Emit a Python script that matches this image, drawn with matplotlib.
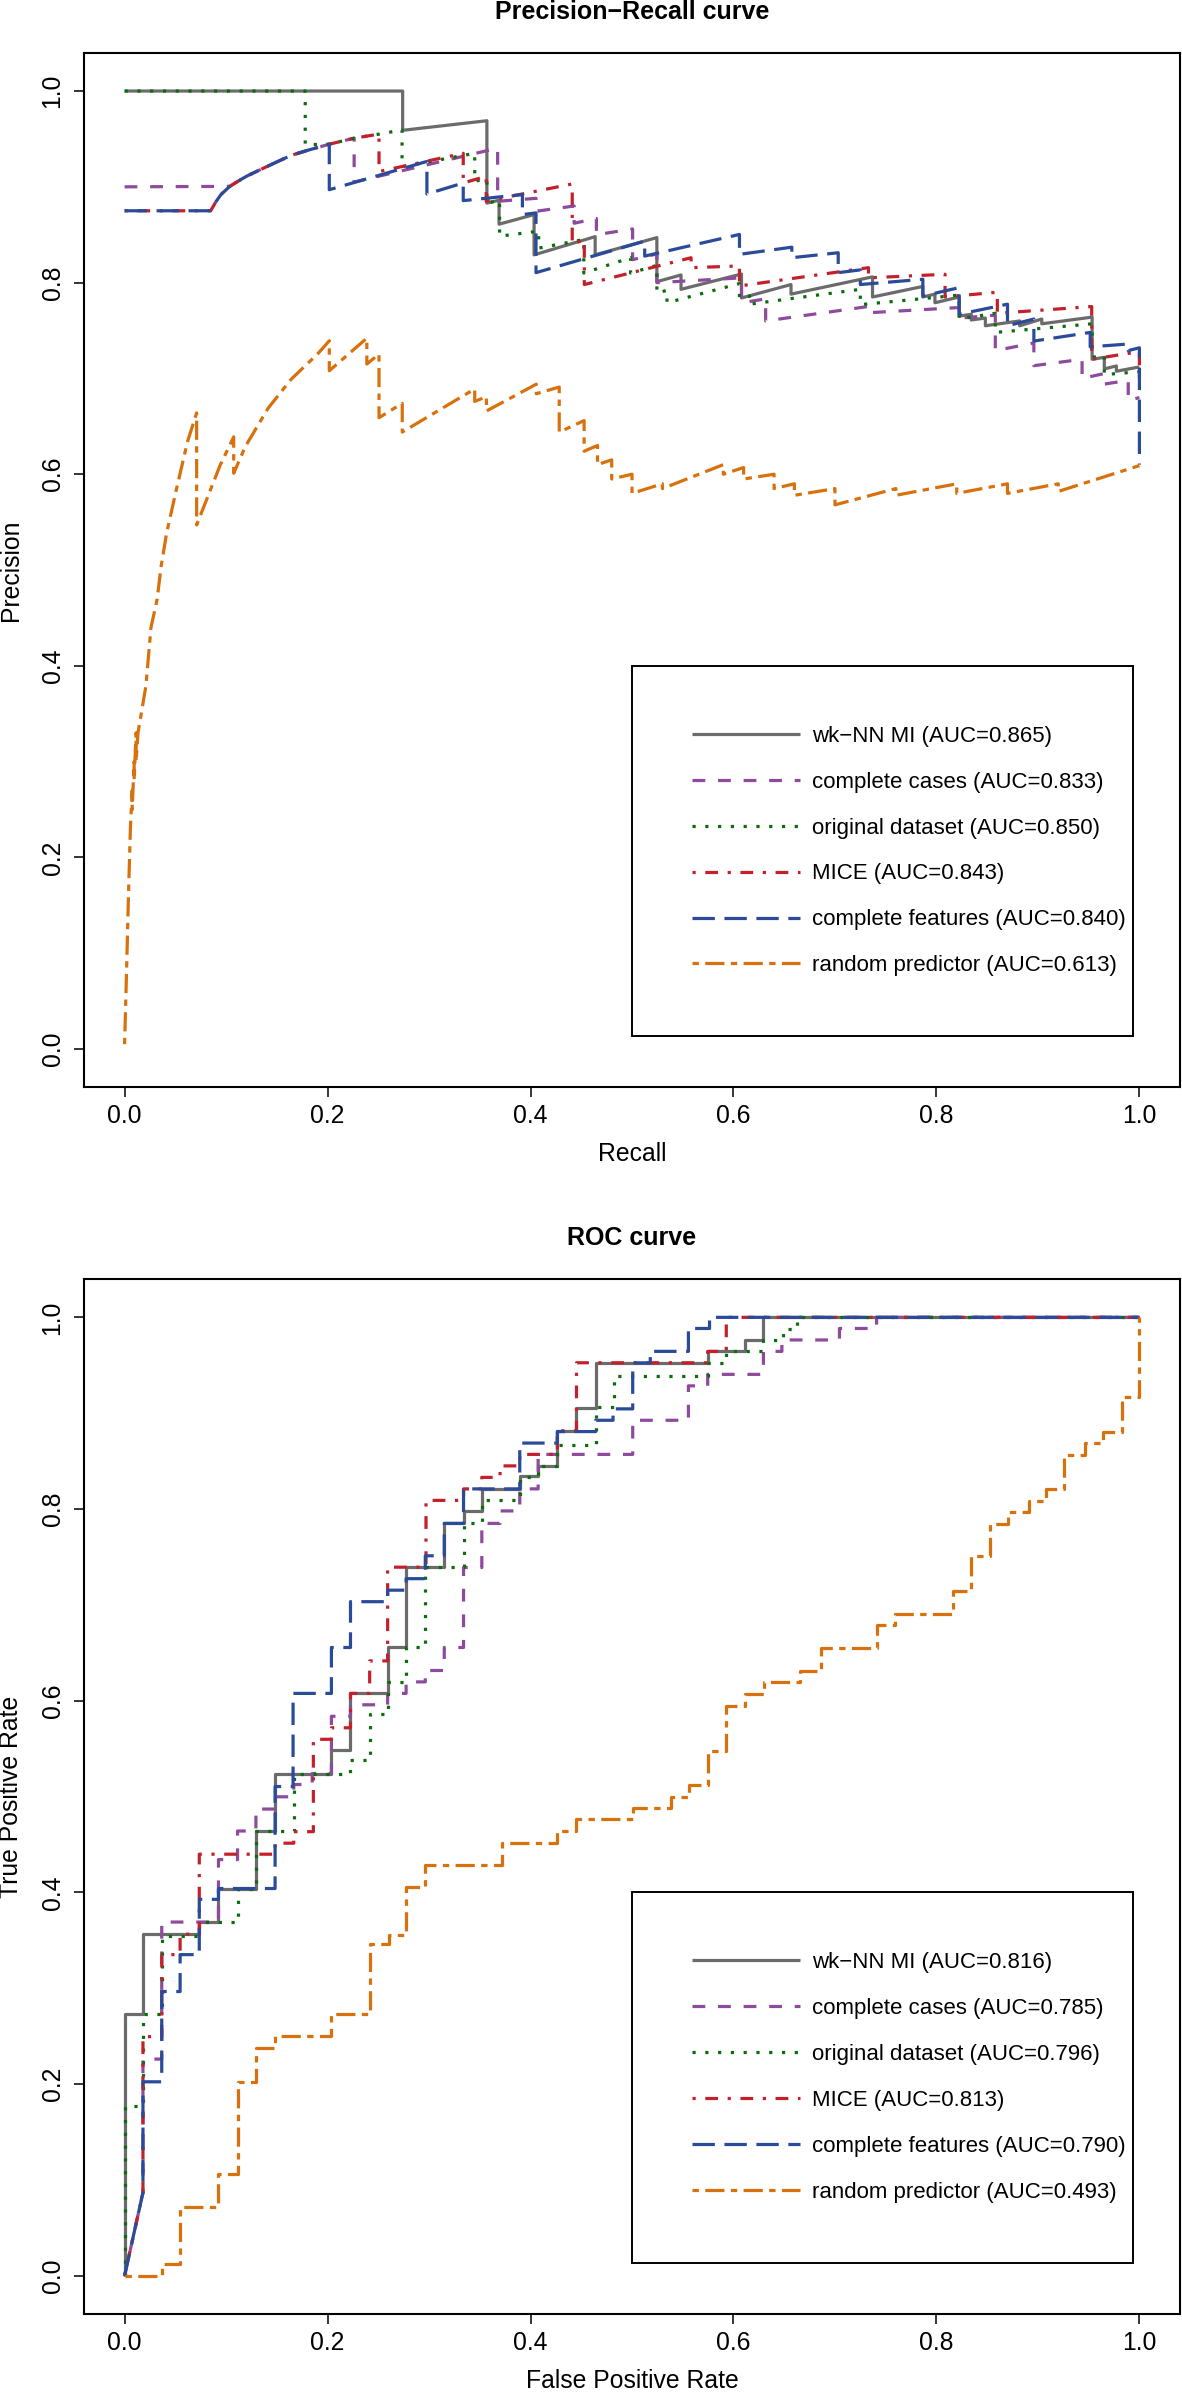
import matplotlib
matplotlib.use("Agg")
import matplotlib.pyplot as plt

plt.rcParams['font.family'] = ['Liberation Sans', 'DejaVu Sans']

# ---------------- labels / styles ----------------
series_names = ["wk\u2212NN MI", "complete cases", "original dataset", "MICE",
                "complete features", "random predictor"]
pr_auc = [0.865, 0.833, 0.850, 0.843, 0.840, 0.613]
roc_auc = [0.816, 0.785, 0.796, 0.813, 0.790, 0.493]
colors = ["#6b6b6b", "#8e4a9c", "#0a6e0a", "#c4202c", "#2a4a9a", "#d8700c"]
dash_patterns = [None, (4, 4), (1, 3), (1, 3, 4, 3), (7, 3), (2, 2, 6, 2)]
tick_vals = [0.0, 0.2, 0.4, 0.6, 0.8, 1.0]
tick_labels = ["0.0", "0.2", "0.4", "0.6", "0.8", "1.0"]

# ---------------- Precision-Recall data ----------------
pr_wknn_r = [0, 0.274, 0.274, 0.357, 0.357, 0.369, 0.369, 0.4035, 0.4035, 0.4637, 0.4637, 0.5245, 0.5245,
             0.5483, 0.5483, 0.6079, 0.6079, 0.6567, 0.6567, 0.737, 0.737, 0.7866, 0.7866, 0.7985, 0.7985,
             0.8224, 0.8224, 0.8343, 0.8343, 0.8482, 0.8482, 0.882, 0.882, 0.9038, 0.9038, 0.9534, 0.9534,
             0.9654, 0.9654, 0.9773, 0.9773, 1.0]
pr_wknn_p = [1.0, 1.0, 0.959, 0.969, 0.883, 0.886, 0.861, 0.871, 0.829, 0.848, 0.829, 0.847, 0.801,
             0.808, 0.793, 0.809, 0.784, 0.798, 0.788, 0.806, 0.785, 0.796, 0.785, 0.788, 0.779,
             0.785, 0.765, 0.767, 0.761, 0.763, 0.755, 0.760, 0.755, 0.762, 0.757, 0.764, 0.720,
             0.722, 0.710, 0.713, 0.7075, 0.712]

pr_cc_r = [0, 0.1037, 0.112, 0.12, 0.1339, 0.15, 0.164, 0.18, 0.2017, 0.2262, 0.2262, 0.3676, 0.3676, 0.4054,
           0.4054, 0.443, 0.443, 0.4649, 0.4649, 0.5006, 0.5006, 0.5245, 0.5245, 0.6079, 0.6079, 0.6317,
           0.6317, 0.737, 0.737, 0.8224, 0.8224, 0.858, 0.858, 0.896, 0.896, 0.9435, 0.9435, 0.965, 0.965,
           0.989, 0.989, 1.0]
pr_cc_p = [0.9, 0.9005, 0.906, 0.911, 0.918, 0.926, 0.9328, 0.938, 0.9445, 0.9508, 0.905, 0.9404, 0.8849, 0.888,
           0.8745, 0.880, 0.862, 0.867, 0.850, 0.856, 0.824, 0.830, 0.800, 0.805, 0.779, 0.783,
           0.760, 0.7757, 0.7688, 0.774, 0.763, 0.766, 0.729, 0.737, 0.7133, 0.72, 0.70, 0.705, 0.694,
           0.698, 0.677, 0.68]

pr_orig_r = [0, 0.178, 0.178, 0.2017, 0.2262, 0.2507, 0.2734, 0.2734, 0.345, 0.345, 0.357, 0.357, 0.3695,
             0.3695, 0.408, 0.408, 0.4525, 0.4525, 0.4986, 0.4986, 0.5245, 0.5245, 0.5345, 0.5345, 0.6059,
             0.6059, 0.6159, 0.6159, 0.725, 0.725, 0.8224, 0.8224, 0.858, 0.858, 0.9534, 0.9534, 0.9654,
             0.9654, 1.0]
pr_orig_p = [1.0, 1.0, 0.944, 0.9445, 0.9508, 0.955, 0.9594, 0.921, 0.935, 0.906, 0.908, 0.883, 0.886,
             0.8485, 0.8537, 0.836, 0.845, 0.81, 0.826, 0.81, 0.818, 0.789, 0.792, 0.779, 0.799,
             0.784, 0.786, 0.7775, 0.793, 0.777, 0.787, 0.762, 0.768, 0.748, 0.757, 0.722, 0.724,
             0.704, 0.707]

pr_mice_r = [0, 0.0848, 0.09, 0.095, 0.1037, 0.112, 0.12, 0.1339, 0.15, 0.164, 0.18, 0.2017, 0.2262, 0.2507,
             0.2507, 0.3337, 0.3337, 0.3563, 0.3563, 0.4411, 0.4411, 0.453, 0.453, 0.5582, 0.5582, 0.6059,
             0.6059, 0.733, 0.733, 0.8085, 0.8085, 0.86, 0.86, 0.953, 0.953, 1.0, 1.0]
pr_mice_p = [0.875, 0.875, 0.8845, 0.892, 0.9005, 0.906, 0.911, 0.918, 0.926, 0.9328, 0.938, 0.9445, 0.9508,
             0.955, 0.916, 0.935, 0.904, 0.911, 0.885, 0.903, 0.84, 0.845, 0.798, 0.826, 0.8156, 0.8174,
             0.7965, 0.8156, 0.805, 0.8087, 0.785, 0.79, 0.768, 0.775, 0.72, 0.728, 0.70]

pr_cf_r = [0, 0.0848, 0.09, 0.095, 0.1037, 0.112, 0.12, 0.1339, 0.15, 0.164, 0.18, 0.2017, 0.2017, 0.2979,
           0.2979, 0.3337, 0.3337, 0.392, 0.392, 0.4054, 0.4054, 0.5125, 0.5125, 0.6059, 0.6059, 0.6575,
           0.6575, 0.7032, 0.7032, 0.725, 0.725, 0.7866, 0.7866, 0.8224, 0.8224, 0.87, 0.87, 0.896, 0.896,
           0.9515, 0.9515, 0.989, 0.989, 1.0, 1.0]
pr_cf_p = [0.875, 0.875, 0.8845, 0.892, 0.9005, 0.906, 0.911, 0.918, 0.926, 0.9328, 0.938, 0.9445, 0.897,
           0.9265, 0.8925, 0.904, 0.8856, 0.8919, 0.871, 0.8728, 0.8104, 0.8433, 0.8277, 0.8503, 0.8295,
           0.837, 0.826, 0.8312, 0.8104, 0.8133, 0.798, 0.8035, 0.786, 0.7948, 0.767, 0.7775, 0.755, 0.762,
           0.739, 0.748, 0.733, 0.7359, 0.729, 0.732, 0.61]

pr_rand_r = [0, 0.0019, 0.0038, 0.0057, 0.0075, 0.0075, 0.0094, 0.0094, 0.0113, 0.0113, 0.0132, 0.021,
             0.026, 0.032, 0.036, 0.0415, 0.051, 0.062, 0.071, 0.071, 0.081, 0.094, 0.1075, 0.1075, 0.119,
             0.1415, 0.164, 0.1906, 0.2017, 0.2017, 0.2387, 0.2387, 0.2507, 0.2507, 0.2736, 0.2736, 0.345,
             0.345, 0.3566, 0.3566, 0.4057, 0.4057, 0.4283, 0.4283, 0.4528, 0.4528, 0.466, 0.466, 0.48, 0.48,
             0.5, 0.5, 0.53, 0.53, 0.59, 0.59, 0.61, 0.61, 0.64, 0.64, 0.66, 0.66, 0.7, 0.7, 0.76, 0.76,
             0.82, 0.82, 0.87, 0.87, 0.92, 0.92, 1.0]
pr_rand_p = [0.005, 0.08, 0.16, 0.23, 0.27, 0.25, 0.30, 0.28, 0.33, 0.30, 0.33, 0.379,
             0.44, 0.469, 0.504, 0.539, 0.584, 0.634, 0.664, 0.547, 0.574, 0.609, 0.639, 0.601, 0.629,
             0.669, 0.699, 0.726, 0.7393, 0.708, 0.742, 0.715, 0.7255, 0.659, 0.674, 0.644, 0.689,
             0.676, 0.681, 0.666, 0.694, 0.684, 0.691, 0.644, 0.656, 0.624, 0.63, 0.61, 0.615, 0.595,
             0.60, 0.58, 0.59, 0.585, 0.61, 0.60, 0.607, 0.595, 0.60, 0.585, 0.59, 0.578, 0.585, 0.568,
             0.585, 0.578, 0.59, 0.58, 0.59, 0.58, 0.59, 0.582, 0.609]

# ---------------- ROC data (FPR, TPR vertices) ----------------
roc_wknn = [(0, 0), (0, 0.273), (0.0181, 0.273), (0.0181, 0.357), (0.0736, 0.357), (0.0736, 0.369),
            (0.0925, 0.369), (0.0925, 0.404), (0.1294, 0.404), (0.1294, 0.464), (0.1483, 0.464),
            (0.1483, 0.524), (0.2038, 0.524), (0.2038, 0.549), (0.2226, 0.549), (0.2226, 0.6076),
            (0.2592, 0.6076), (0.2592, 0.6555), (0.2774, 0.6555), (0.2774, 0.739), (0.315, 0.739),
            (0.315, 0.785), (0.334, 0.785), (0.334, 0.798), (0.352, 0.798), (0.352, 0.821), (0.3894, 0.821),
            (0.3894, 0.834), (0.4075, 0.834), (0.4075, 0.845), (0.4264, 0.845), (0.4264, 0.8816),
            (0.4445, 0.8816), (0.4445, 0.9055), (0.4642, 0.9055), (0.4642, 0.9525), (0.5746, 0.9525),
            (0.5746, 0.9645), (0.6112, 0.9645), (0.6112, 0.9764), (0.6295, 0.9764), (0.6295, 1.0), (1.0, 1.0)]

roc_cc = [(0, 0), (0.0181, 0.0868), (0.0181, 0.226), (0.0366, 0.226), (0.0366, 0.369), (0.0925, 0.369),
          (0.0925, 0.4342), (0.1113, 0.4342), (0.1113, 0.464), (0.1294, 0.464), (0.1294, 0.4869),
          (0.1483, 0.4869), (0.1483, 0.4997), (0.1667, 0.4997), (0.1667, 0.5125), (0.1849, 0.5125),
          (0.1849, 0.524), (0.2038, 0.524), (0.2038, 0.5837), (0.2226, 0.5837), (0.2226, 0.5957),
          (0.2592, 0.5957), (0.2592, 0.6076), (0.2774, 0.6076), (0.2774, 0.6196), (0.2963, 0.6196),
          (0.2963, 0.6315), (0.315, 0.6315), (0.315, 0.6555), (0.334, 0.6555), (0.334, 0.739),
          (0.352, 0.739), (0.352, 0.785), (0.37, 0.785), (0.37, 0.798), (0.3894, 0.798), (0.3894, 0.821),
          (0.4075, 0.821), (0.4075, 0.857), (0.5007, 0.857), (0.5007, 0.8926), (0.5556, 0.8926),
          (0.5556, 0.9285), (0.5746, 0.9285), (0.5746, 0.9405), (0.6295, 0.9405), (0.6295, 0.9645),
          (0.6477, 0.9645), (0.6477, 0.9764), (0.7044, 0.9764), (0.7044, 0.9884), (0.741, 0.9884),
          (0.741, 1.0), (1.0, 1.0)]

roc_orig = [(0, 0), (0, 0.1767), (0.0181, 0.1767), (0.0181, 0.273), (0.0366, 0.273), (0.0366, 0.354),
            (0.0736, 0.354), (0.0736, 0.369), (0.1113, 0.369), (0.1113, 0.404), (0.1294, 0.404),
            (0.1294, 0.464), (0.1672, 0.464), (0.1672, 0.524), (0.2226, 0.524), (0.2226, 0.538),
            (0.2415, 0.538), (0.2415, 0.5857), (0.2592, 0.5857), (0.2592, 0.6196), (0.2774, 0.6196),
            (0.2774, 0.6555), (0.2963, 0.6555), (0.2963, 0.739), (0.334, 0.739), (0.334, 0.785),
            (0.352, 0.785), (0.352, 0.809), (0.3894, 0.809), (0.3894, 0.833), (0.4075, 0.833),
            (0.4075, 0.845), (0.4264, 0.845), (0.4264, 0.867), (0.4642, 0.867), (0.4642, 0.9067),
            (0.482, 0.9067), (0.482, 0.939), (0.5746, 0.939), (0.5746, 0.9525), (0.5926, 0.9525),
            (0.5926, 0.9645), (0.6295, 0.9645), (0.6295, 0.9764), (0.649, 0.9764), (0.649, 0.988),
            (0.6624, 0.988), (0.6624, 1.0), (1.0, 1.0)]

roc_mice = [(0, 0), (0.0181, 0.0868), (0.0181, 0.2494), (0.0366, 0.2494), (0.0366, 0.335), (0.0547, 0.335),
            (0.0547, 0.3563), (0.0736, 0.3563), (0.0736, 0.4398), (0.1483, 0.4398), (0.1483, 0.4513),
            (0.1667, 0.4513), (0.1667, 0.4633), (0.186, 0.4633), (0.186, 0.5597), (0.2038, 0.5597),
            (0.2038, 0.5717), (0.2226, 0.5717), (0.2226, 0.6076), (0.2415, 0.6076), (0.2415, 0.6415),
            (0.2592, 0.6415), (0.2592, 0.7393), (0.297, 0.7393), (0.297, 0.809), (0.334, 0.809),
            (0.334, 0.821), (0.352, 0.821), (0.352, 0.833), (0.37, 0.833), (0.37, 0.845), (0.3894, 0.845),
            (0.3894, 0.857), (0.4264, 0.857), (0.4264, 0.8816), (0.4453, 0.8816), (0.4453, 0.9526),
            (0.5746, 0.9526), (0.5746, 0.9645), (0.5929, 0.9645), (0.5929, 1.0), (1.0, 1.0)]

roc_cf = [(0, 0), (0.0181, 0.0868), (0.0181, 0.2023), (0.0366, 0.2023), (0.0366, 0.2965), (0.0547, 0.2965),
          (0.0547, 0.335), (0.0736, 0.335), (0.0736, 0.3927), (0.0925, 0.3927), (0.0925, 0.404),
          (0.1483, 0.404), (0.1483, 0.5104), (0.166, 0.5104), (0.166, 0.6076), (0.2038, 0.6076),
          (0.2038, 0.6555), (0.2226, 0.6555), (0.2226, 0.7033), (0.2592, 0.7033), (0.2592, 0.7153),
          (0.2774, 0.7153), (0.2774, 0.7273), (0.2963, 0.7273), (0.2963, 0.7512), (0.315, 0.7512),
          (0.315, 0.785), (0.334, 0.785), (0.334, 0.821), (0.3894, 0.821), (0.3894, 0.8688),
          (0.4264, 0.8688), (0.4264, 0.8808), (0.4642, 0.8808), (0.4642, 0.8926), (0.4813, 0.8926),
          (0.4813, 0.9045), (0.5007, 0.9045), (0.5007, 0.9525), (0.518, 0.9525), (0.518, 0.9645),
          (0.5556, 0.9645), (0.5556, 0.9884), (0.5764, 0.9884), (0.5764, 1.0), (1.0, 1.0)]

roc_rand = [(0, 0), (0.0366, 0), (0.0366, 0.012), (0.0547, 0.012), (0.0547, 0.0719), (0.0925, 0.0719),
            (0.0925, 0.1061), (0.1113, 0.1061), (0.1113, 0.2023), (0.1294, 0.2023), (0.1294, 0.2374),
            (0.1483, 0.2374), (0.1483, 0.2503), (0.2038, 0.2503), (0.2038, 0.273), (0.2415, 0.273),
            (0.2415, 0.3457), (0.2604, 0.3457), (0.2604, 0.3555), (0.2774, 0.3555), (0.2774, 0.4056),
            (0.2962, 0.4056), (0.2962, 0.4282), (0.3717, 0.4282), (0.3717, 0.4513), (0.4264, 0.4513),
            (0.4264, 0.4642), (0.4453, 0.4642), (0.4453, 0.4766), (0.5007, 0.4766), (0.5007, 0.4878),
            (0.538, 0.4878), (0.538, 0.4993), (0.5563, 0.4993), (0.5563, 0.5121), (0.5746, 0.5121),
            (0.5746, 0.547), (0.5929, 0.547), (0.5929, 0.5947), (0.6112, 0.5947), (0.6112, 0.607),
            (0.63, 0.607), (0.63, 0.619), (0.666, 0.619), (0.666, 0.631), (0.686, 0.631), (0.686, 0.6549),
            (0.741, 0.6549), (0.741, 0.6789), (0.7593, 0.6789), (0.7593, 0.6909), (0.816, 0.6909),
            (0.816, 0.7149), (0.8343, 0.7149), (0.8343, 0.7508), (0.8526, 0.7508), (0.8526, 0.7847),
            (0.8709, 0.7847), (0.8709, 0.7967), (0.891, 0.7967), (0.891, 0.8087), (0.9075, 0.8087),
            (0.9075, 0.8207), (0.9258, 0.8207), (0.9258, 0.8566), (0.9459, 0.8566), (0.9459, 0.8686),
            (0.9642, 0.8686), (0.9642, 0.8806), (0.9825, 0.8806), (0.9825, 0.9165), (1.0, 0.9165),
            (1.0, 1.0)]

pr_series = [(pr_wknn_r, pr_wknn_p), (pr_cc_r, pr_cc_p), (pr_orig_r, pr_orig_p),
             (pr_mice_r, pr_mice_p), (pr_cf_r, pr_cf_p), (pr_rand_r, pr_rand_p)]
roc_series = [roc_wknn, roc_cc, roc_orig, roc_mice, roc_cf, roc_rand]

# ---------------- figure ----------------
LW = 2.3
FS = 17.8

fig = plt.figure(figsize=(11.82, 23.93), dpi=100)
ax1 = fig.add_axes([0.07107, 0.54563, 0.92724, 0.43234])
ax2 = fig.add_axes([0.07107, 0.03301, 0.92724, 0.43251])


def draw_line(ax, x, y, i):
    if dash_patterns[i] is None:
        ln, = ax.plot(x, y, color=colors[i], lw=LW, linestyle='-', solid_capstyle='butt')
    else:
        ln, = ax.plot(x, y, color=colors[i], lw=LW, linestyle=(0, dash_patterns[i]),
                      dash_capstyle='butt')
    return ln


def style(ax, title, xlabel, ylabel, lines, aucs):
    ax.set_xlim(-0.04, 1.04)
    ax.set_ylim(-0.04, 1.04)
    ax.set_xticks(tick_vals)
    ax.set_xticklabels(tick_labels)
    ax.set_yticks(tick_vals)
    ax.set_yticklabels(tick_labels, rotation=90, va='center')
    ax.tick_params(axis='both', length=7.5, width=1.1, labelsize=FS, color='black')
    ax.tick_params(axis='x', pad=4.5)
    ax.tick_params(axis='y', pad=6.5)
    for sp in ax.spines.values():
        sp.set_linewidth(1.5)
        sp.set_color('black')
    ax.set_title(title, fontsize=18, fontweight='bold', y=1 + 41 / 1035, va='center', pad=0)
    ax.set_xlabel(xlabel, fontsize=FS, va='center')
    ax.xaxis.set_label_coords(0.5, -0.0645)
    ax.set_ylabel(ylabel, fontsize=FS, va='center')
    ax.yaxis.set_label_coords(-0.0666, 0.5)
    labels = [f"{n} (AUC={a:.3f})" for n, a in zip(series_names, aucs)]
    leg = ax.legend(lines, labels, loc='upper left',
                    bbox_to_anchor=(0.5, 0.0108, 0.4937, 0.3895), bbox_transform=ax.transData,
                    mode='expand', borderaxespad=0, borderpad=2.71, labelspacing=1.12,
                    handlelength=4.86, handletextpad=0.54, fontsize=16, frameon=True,
                    fancybox=False, edgecolor='black', framealpha=1)
    leg.get_frame().set_linewidth(1.4)


lines1 = [draw_line(ax1, r, p, i) for i, (r, p) in enumerate(pr_series)]
style(ax1, "Precision\u2212Recall curve", "Recall", "Precision", lines1, pr_auc)

lines2 = []
for i, pts in enumerate(roc_series):
    fx = [pt[0] for pt in pts]
    ty = [pt[1] for pt in pts]
    lines2.append(draw_line(ax2, fx, ty, i))
style(ax2, "ROC curve", "False Positive Rate", "True Positive Rate", lines2, roc_auc)

fig.savefig("out.png", dpi=100)
